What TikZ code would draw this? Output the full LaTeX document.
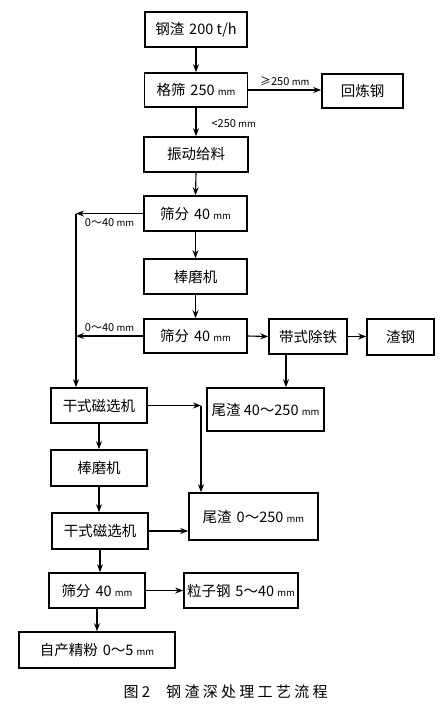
\documentclass[tikz,border=0pt]{standalone}
\usepackage{fontspec}
\setmainfont{Noto Sans CJK SC}
\usetikzlibrary{arrows.meta}
\newcommand\unitmm{{\fontsize{9.5}{10}\selectfont mm}}

\begin{document}
\begin{tikzpicture}[x=1pt, y=-1pt,
    stage/.style 2 args={draw, line width=1.6pt, minimum width=#1, minimum height=#2,
      inner sep=0pt, font=\fontsize{14.5}{16}\selectfont},
    flow/.style={line width=1.1pt, -{Stealth[length=8pt, width=6pt]}},
    note/.style={inner sep=1pt, font=\fontsize{11}{12}\selectfont}]
  \useasboundingbox (0,0) rectangle (444,705);
  \node[stage={102}{35}] (slag) at (196,29.5) {钢渣\hspace{5pt}200 t/h};
  \node[stage={103}{34}] (grate) at (196,90) {格筛\hspace{5pt}250 \unitmm};
  \node[stage={81}{34}] (remelt) at (362.5,91) {回炼钢};
  \node[stage={104}{35}] (feed) at (196,154.5) {振动给料};
  \node[stage={103}{35}] (screenA) at (195.5,213.5) {筛分\hspace{5pt}40 \unitmm};
  \node[stage={103}{35}] (rodA) at (195.5,276.5) {棒磨机};
  \node[stage={103}{34}] (screenB) at (195.5,336) {筛分\hspace{5pt}40 \unitmm};
  \node[stage={78}{35}] (belt) at (308,336.5) {带式除铁};
  \node[stage={67}{36}] (scrap) at (400.5,337) {渣钢};
  \node[stage={96}{35}] (magA) at (99,405.5) {干式磁选机};
  \node[stage={117}{43}] (tailA) at (265.5,409.5) {尾渣 40～250 \unitmm};
  \node[stage={96}{36}] (rodB) at (99,468) {棒磨机};
  \node[stage={96}{36}] (magB) at (100,531) {干式磁选机};
  \node[stage={129}{47}] (tailB) at (253.5,516.5) {尾渣\hspace{5pt}0～250 \unitmm};
  \node[stage={96}{35}] (screenC) at (97,590.5) {筛分\hspace{5pt}40 \unitmm};
  \node[stage={114}{35}] (grain) at (241,590.5) {粒子钢\hspace{5pt}5～40 \unitmm};
  \node[stage={156}{36}] (fines) at (97,650) {自产精粉\hspace{5pt}0～5 \unitmm};
  \node[anchor=west, font=\fontsize{15}{16}\selectfont] (caption) at (120,692)
    {图 2\hspace{16pt}\addfontfeature{LetterSpace=22}钢渣深处理工艺流程};

  \coordinate (trunk) at (76,213.5);
  \coordinate (beltdrop) at (286,0);
  \coordinate (knee) at (201,405.5);

  \draw[flow] (slag.south) -- (grate.north);
  \draw[flow] (grate.east) -- (grate.east -| remelt.west)
    node[note, midway, above=3pt] {≥250 \unitmm};
  \draw[flow] (grate.south) -- (feed.north)
    node[note, pos=.55, right=14pt] {<250 \unitmm};
  \draw[flow] (feed.south) -- (screenA.north);
  \draw[flow] (screenA.west) -- (trunk)
    node[note, midway, below=3pt] {0～40 \unitmm};
  \draw[flow] (screenA.south) -- (rodA.north);
  \draw[flow] (rodA.south) -- (screenB.north);
  \draw[flow] (screenB.west) -- (screenB.west -| trunk)
    node[note, midway, above=3pt] {0～40 \unitmm};
  \draw[flow] (trunk) -- (trunk |- magA.north);
  \draw[flow] (screenB.east) -- (belt.west);
  \draw[flow] (belt.east) -- (belt.east -| scrap.west);
  \draw[flow] (belt.south -| beltdrop) -- (tailA.north -| beltdrop);
  \draw[flow] (magA.east) -- (knee);
  \draw[flow] (knee) -- (knee |- tailB.north);
  \draw[flow] (magA.south) -- (rodB.north);
  \draw[flow] (rodB.south) -- (rodB.south |- magB.north);
  \draw[flow] (magB.east) -- (magB.east -| tailB.west);
  \draw[flow] (magB.south) -- (magB.south |- screenC.north);
  \draw[flow] (screenC.east) -- (grain.west);
  \draw[flow] (screenC.south) -- (fines.north);
\end{tikzpicture}
\end{document}
